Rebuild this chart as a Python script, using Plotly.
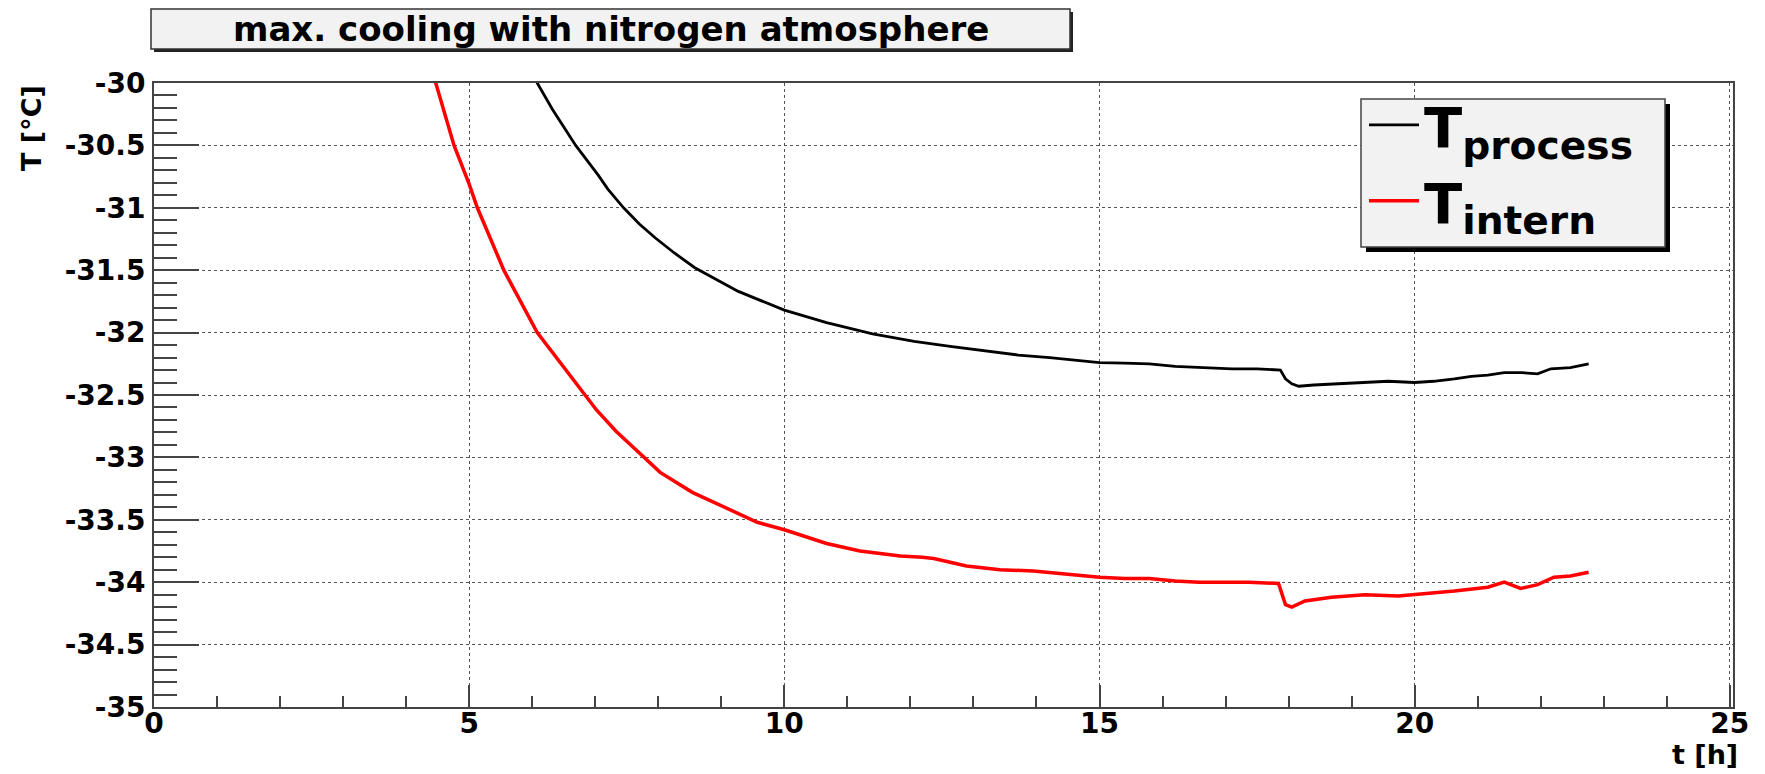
import plotly.graph_objects as go

# ---------------- data ----------------
process_t = [5.95, 6.08, 6.32, 6.69, 7.05, 7.2, 7.45, 7.7, 7.95, 8.25, 8.58, 9.27, 10.0, 10.67,
             11.4, 12.06, 12.63, 13.1, 13.42, 13.71, 14.21, 14.6, 15.0, 15.4, 15.79, 16.2,
             16.58, 17.1, 17.5, 17.87, 17.95, 18.05, 18.16, 18.4, 18.79, 19.2, 19.58, 20.0,
             20.3, 20.63, 20.9, 21.16, 21.42, 21.68, 21.95, 22.16, 22.47, 22.76]
process_T = [-29.9, -30.0, -30.21, -30.5, -30.74, -30.85, -31.0, -31.13, -31.24, -31.36, -31.48,
             -31.67, -31.82, -31.92, -32.01, -32.07, -32.11, -32.14, -32.16, -32.18, -32.20,
             -32.22, -32.24, -32.245, -32.25, -32.27, -32.28, -32.29, -32.29, -32.30, -32.37,
             -32.41, -32.43, -32.42, -32.41, -32.40, -32.39, -32.40, -32.39, -32.37, -32.35,
             -32.34, -32.32, -32.32, -32.33, -32.29, -32.28, -32.25]

intern_t = [4.35, 4.47, 4.76, 5.0, 5.13, 5.55, 6.08, 6.45, 6.69, 7.02, 7.33, 7.75, 8.03, 8.54,
            9.15, 9.57, 10.0, 10.67, 11.2, 11.58, 11.84, 12.19, 12.37, 12.89, 13.42, 13.95,
            14.37, 14.7, 15.0, 15.4, 15.79, 16.2, 16.58, 17.0, 17.37, 17.84, 17.95, 18.05,
            18.26, 18.68, 19.21, 19.74, 20.0, 20.63, 21.16, 21.42, 21.68, 21.95, 22.21, 22.47,
            22.76]
intern_T = [-29.9, -30.0, -30.5, -30.81, -31.0, -31.5, -32.0, -32.24, -32.40, -32.62, -32.79,
            -32.99, -33.12, -33.28, -33.42, -33.52, -33.58, -33.69, -33.75, -33.77, -33.79,
            -33.80, -33.81, -33.87, -33.90, -33.91, -33.93, -33.95, -33.96, -33.97, -33.97,
            -33.99, -34.0, -34.0, -34.0, -34.01, -34.18, -34.20, -34.15, -34.12, -34.10,
            -34.11, -34.10, -34.07, -34.04, -34.0, -34.05, -34.02, -33.96, -33.95, -33.92]

x_tick_vals = [0, 5, 10, 15, 20, 25]
x_tick_text = ["0", "5", "10", "15", "20", "25"]
y_tick_vals = [-35, -34.5, -34, -33.5, -33, -32.5, -32, -31.5, -31, -30.5, -30]
y_tick_text = ["-35", "-34.5", "-34", "-33.5", "-33", "-32.5", "-32", "-31.5", "-31", "-30.5", "-30"]

title_text = "max. cooling with nitrogen atmosphere"
x_title = "t [h]"
y_title = "T [°C]"
name_process = "T<sub>process</sub>"
name_intern = "T<sub>intern</sub>"

# ---------------- geometry helpers ----------------
W, H = 1765, 774
L, R, T, B = 154, 1733, 83, 707
def px(x):
    return (x - L) / (R - L)
def py(y):
    return 1 - (y - T) / (B - T)

FONT = "DejaVu Sans"
AXC = "#444444"

fig = go.Figure()
fig.add_trace(go.Scatter(x=process_t, y=process_T, mode="lines", name=name_process,
                         line=dict(color="black", width=2.8)))
fig.add_trace(go.Scatter(x=intern_t, y=intern_T, mode="lines", name=name_intern,
                         line=dict(color="#ff0000", width=3.5)))

tickfont = dict(family=FONT, size=28, color="black", weight="bold")

fig.update_xaxes(range=[0, 25.05], showline=True, linecolor=AXC, linewidth=2, mirror=True,
                 tickmode="array", tickvals=x_tick_vals, ticktext=x_tick_text,
                 ticks="inside", ticklen=22, tickwidth=1.5, tickcolor=AXC,
                 minor=dict(ticks="inside", ticklen=11, tickwidth=1.5, tickcolor=AXC,
                            dtick=1, tick0=0, showgrid=False),
                 showgrid=True, gridcolor="#555555", griddash="dot", gridwidth=1,
                 zeroline=False, tickfont=tickfont, ticklabelstandoff=-10)
fig.update_yaxes(range=[-35, -30], showline=True, linecolor=AXC, linewidth=2, mirror=True,
                 tickmode="array", tickvals=y_tick_vals, ticktext=y_tick_text,
                 ticks="inside", ticklen=45, tickwidth=1.5, tickcolor=AXC,
                 minor=dict(ticks="inside", ticklen=23, tickwidth=1.5, tickcolor=AXC,
                            dtick=0.1, tick0=-35, showgrid=False),
                 showgrid=True, gridcolor="#555555", griddash="dot", gridwidth=1,
                 zeroline=False, tickfont=tickfont, ticklabelstandoff=1)

shapes = [
    # title box shadow + box
    dict(type="rect", xref="paper", yref="paper", x0=px(154), x1=px(1073), y0=py(52), y1=py(12),
         fillcolor="#222222", line=dict(width=0), layer="above"),
    dict(type="rect", xref="paper", yref="paper", x0=px(151), x1=px(1070), y0=py(49), y1=py(9),
         fillcolor="#f2f2f2", line=dict(color="#333333", width=1.5), layer="above"),
    # legend box shadow + box
    dict(type="rect", xref="paper", yref="paper", x0=px(1366), x1=px(1670), y0=py(252), y1=py(104),
         fillcolor="black", line=dict(width=0), layer="above"),
    dict(type="rect", xref="paper", yref="paper", x0=px(1361), x1=px(1665), y0=py(247), y1=py(99),
         fillcolor="#f2f2f2", line=dict(color="#444444", width=1.5), layer="above"),
]

annotations = [
    dict(text=title_text, xref="paper", yref="paper", x=px(611), y=py(29), xanchor="center",
         yanchor="middle", showarrow=False,
         font=dict(family=FONT, size=34, color="black", weight="bold")),
    dict(text=y_title, xref="paper", yref="paper", x=px(31), y=py(83), xanchor="center",
         yanchor="top", textangle=-90, showarrow=False,
         font=dict(family=FONT, size=27, color="black", weight="bold")),
    dict(text=x_title, xref="paper", yref="paper", x=px(1740), y=py(772), xanchor="right",
         yanchor="bottom", showarrow=False,
         font=dict(family=FONT, size=27, color="black", weight="bold")),
]

fig.update_layout(
    width=W, height=H, autosize=False,
    margin=dict(l=L, r=W - R, t=T, b=H - B, pad=0),
    paper_bgcolor="white", plot_bgcolor="white",
    shapes=shapes, annotations=annotations,
    showlegend=True,
    legend=dict(x=px(1364), y=py(82), xanchor="left", yanchor="top",
                bgcolor="rgba(0,0,0,0)", borderwidth=0, tracegroupgap=0,
                itemwidth=50,
                font=dict(family=FONT, size=56, color="black", weight="bold")),
)

fig.write_html("out.html", config={"displayModeBar": False},
               post_script="document.body.style.margin='0';document.body.style.overflow='hidden';")
